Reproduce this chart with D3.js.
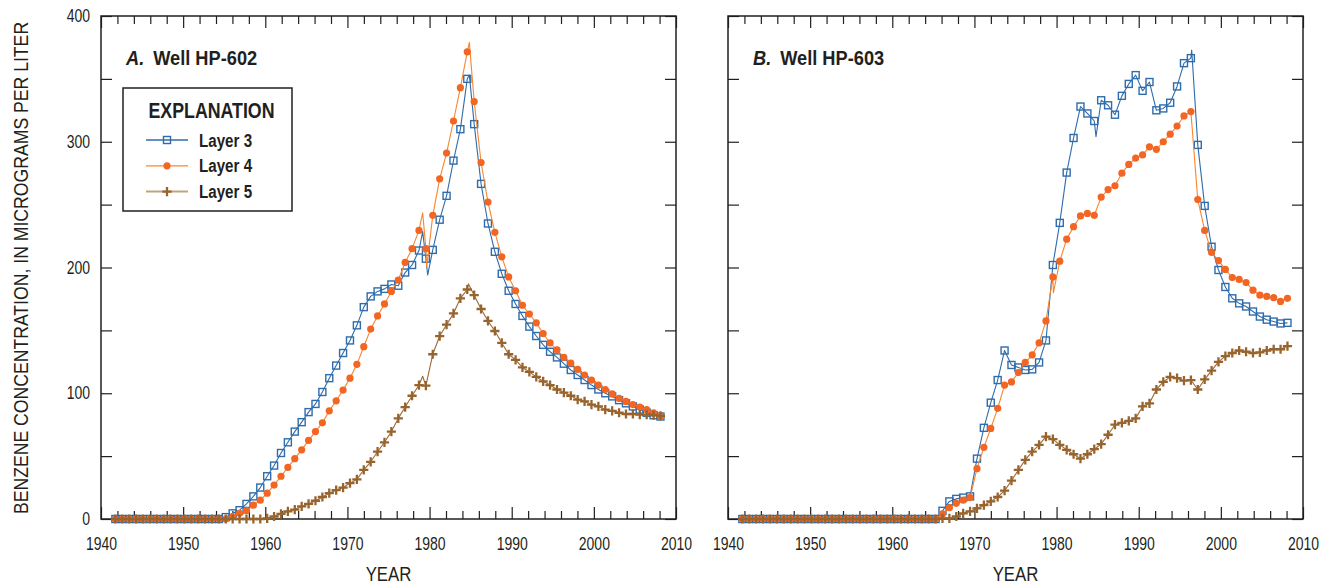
<!DOCTYPE html>
<html>
<head>
<meta charset="utf-8">
<script src="https://cdn.jsdelivr.net/npm/d3@7"></script>
<style>
  body { margin: 0; background: #fff; }
  svg text { font-family: "Liberation Sans", Arial, sans-serif; fill: #231f20; }
</style>
</head>
<body>
<svg id="chart" width="1330" height="585"></svg>
<script>
// Simulated output is reported on a regular 10-month step, 80 outputs per layer.
const outputStart = 1941.75;
const outputStep = 0.84;
const outputYears = d3.range(80).map(i => outputStart + i * outputStep);

// Well HP-602, benzene concentration (micrograms per liter)
const hp602Layer3 = [0,0,0,0,0,0,0,0,0,0,0,0,0,0,0,0,
  1.5,4.5,7,12,18,25,34,42.5,52.5,61,69.5,77,85,91.5,101,112,122,132,142,154,168.5,177,181,183,
  186.5,185.5,196,202,213.5,207,214,238,257,285,310,350,314,266.5,235,212.5,195,181.5,171,161.5,
  153,145.5,138.5,133,128.5,123.5,118.5,114.5,110.5,106.5,103,100,97.5,94.5,92,89.5,87,84.5,82.5,81.5];
const hp602Layer4 = [0,0,0,0,0,0,0,0,0,0,0,0,0,0,0,0,0,
  1.9,4.5,6.6,11,15,20.5,27,34,41,48,55,62.5,69.5,76.5,86,94,102.5,112,123,137,151,161.5,171,
  181,190,204,215,229.5,215,241.5,270.5,291,316.5,343,371.5,332,283.5,252,228,208.5,192.5,181.5,170,
  163,156,147.5,140,134.5,128.5,124,119,114.5,110.5,106.5,103,99.5,96,93.5,91,89,87,84.5,82];
const hp602Layer5 = [0,0,0,0,0,0,0,0,0,0,0,0,0,0,0,0,0,0,0,0,0,0,
  0.5,2,4,6,7.5,10,12,14.5,17.5,20.5,23,25,28.5,31.5,39,45.5,53.5,61,
  69.5,80,89,98,106.5,106,131,145.5,154.5,163.5,175.5,182.5,178,167,157.5,149.5,140,131,126.5,120.5,
  117,113,109.5,106.5,103,100.5,98,95,93.5,91,89.5,87,86,84.5,83.5,83.5,83,83,82.5,82];

// Well HP-603, benzene concentration (micrograms per liter)
const hp603Layer3 = [0,0,0,0,0,0,0,0,0,0,0,0,0,0,0,0,0,0,0,0,0,0,0,0,0,0,0,0,0,
  6.5,14,16,17,18,48,72.5,92.5,110.5,134,122.5,120.5,118.5,119,124.5,142,202,235.5,275.5,303,328,
  322.5,316.5,333,329,321.5,336.5,346,353,340.5,347.5,325,326.5,331,344,362.5,366.5,297.5,249,216.5,198,
  184.5,175.5,171.5,169,165,161,158.5,157,155.5,156];
const hp603Layer4 = [0,0,0,0,0,0,0,0,0,0,0,0,0,0,0,0,0,0,0,0,0,0,0,0,0,0,0,0,0,
  4,9,12.5,15,17,40,57,72,88,106.5,109,116.5,124.5,130.5,140,157.5,192.5,205,222.5,232.5,241,
  243,241.5,256,262,265,275,282,287,289.5,296,294,300,306,312.5,320.5,324,254,229.5,212,205.5,
  198.5,192,190.5,188,182,178,177,176,173,175.5];
const hp603Layer5 = [0,0,0,0,0,0,0,0,0,0,0,0,0,0,0,0,0,0,0,0,0,0,0,0,0,0,0,0,0,
  0.5,0.5,2,4.5,6,8.5,11,14,17.5,22.5,30.5,39,47,53.5,59,65.5,63.5,59,55,51.5,48,
  51.5,55.5,59.5,67,75,76.5,78,80,89.5,92,103,109,113,112,110,110.5,103,111,118,125,
  129.5,132,134,133,132,132.5,134,135,135,137.5];

// Monthly excursions between reported outputs (year, value): line vertices only
const hp602Layer3Peaks = [[1979.16, 228.5], [1979.77, 194], [1984.84, 353]];
const hp602Layer4Peaks = [[1979.16, 243.5], [1979.65, 200.5], [1984.84, 379]];
const hp602Layer5Peaks = [[1979.16, 113.5], [1984.72, 187]];
const hp603Layer3Peaks = [[1984.8, 304], [1996.45, 373]];
const hp603Layer4Peaks = [[1979.62, 180]];
const hp603Layer5Peaks = [];

const layerNames = ["Layer 3", "Layer 4", "Layer 5"];
const yTicks = [0, 50, 100, 150, 200, 250, 300, 350, 400];
const xMajorTicks = [1940, 1950, 1960, 1970, 1980, 1990, 2000, 2010];
const xMinorTicks = d3.range(1940, 2011, 2);

const styles = [
  { line: "#2f6cab", mark: "#2f6cab", kind: "square" },
  { line: "#f7862f", mark: "#f26522", kind: "circle" },
  { line: "#9c6a36", mark: "#98642e", kind: "plus" }
];

const panels = [
  { letter: "A.", well: "Well HP-602", left: 101, right: 676, yLabels: true,
    layers: [hp602Layer3, hp602Layer4, hp602Layer5],
    peaks: [hp602Layer3Peaks, hp602Layer4Peaks, hp602Layer5Peaks] },
  { letter: "B.", well: "Well HP-603", left: 728, right: 1303, yLabels: false,
    layers: [hp603Layer3, hp603Layer4, hp603Layer5],
    peaks: [hp603Layer3Peaks, hp603Layer4Peaks, hp603Layer5Peaks] }
];

const plotTop = 16, plotBottom = 519;
const svg = d3.select("#chart");
const ink = "#231f20";

// Condensed lettering: squeeze text horizontally about its anchor point
function condense(sel, k, extra) {
  sel.each(function () {
    const t = d3.select(this);
    const x = +t.attr("x") || 0, y = +t.attr("y") || 0;
    t.attr("x", null).attr("y", null)
      .attr("transform", `translate(${x},${y})${extra || ""} scale(${k},1)`);
  });
}

function drawMarker(g, kind, color, x, y) {
  if (kind === "square") {
    g.append("rect").attr("x", x - 3.5).attr("y", y - 3.5).attr("width", 7).attr("height", 7)
      .attr("fill", "none").attr("stroke", color).attr("stroke-width", 1.4);
  } else if (kind === "circle") {
    g.append("circle").attr("cx", x).attr("cy", y).attr("r", 3.6).attr("fill", color);
  } else {
    g.append("path").attr("d", `M${x - 4.6},${y}H${x + 4.6}M${x},${y - 4.6}V${y + 4.6}`)
      .attr("stroke", color).attr("stroke-width", 2.3).attr("fill", "none");
  }
}

function styleAxis(g) {
  g.select(".domain").remove();
  g.selectAll(".tick line").attr("stroke", ink).attr("stroke-width", 1.2);
  g.selectAll(".tick text").attr("fill", ink).style("font-size", "17.5px").call(condense, 0.8);
}

panels.forEach(p => {
  const x = d3.scaleLinear().domain([1940, 2010]).range([p.left, p.right]);
  const y = d3.scaleLinear().domain([0, 400]).range([plotBottom, plotTop]);
  const g = svg.append("g");

  // axes with inward ticks on all four sides
  g.append("g").attr("transform", `translate(0,${plotBottom})`)
    .call(d3.axisBottom(x).tickValues(xMinorTicks.filter(v => v % 10 !== 0)).tickSize(-8).tickFormat(""))
    .call(styleAxis);
  g.append("g").attr("transform", `translate(0,${plotBottom})`)
    .call(d3.axisBottom(x).tickValues(xMajorTicks).tickSize(-12).tickPadding(19).tickFormat(d3.format("d")))
    .call(styleAxis);
  g.append("g").attr("transform", `translate(0,${plotTop})`)
    .call(d3.axisTop(x).tickValues(xMinorTicks.filter(v => v % 10 !== 0)).tickSize(-8).tickFormat(""))
    .call(styleAxis);
  g.append("g").attr("transform", `translate(0,${plotTop})`)
    .call(d3.axisTop(x).tickValues(xMajorTicks).tickSize(-12).tickFormat(""))
    .call(styleAxis);
  g.append("g").attr("transform", `translate(${p.left},0)`)
    .call(d3.axisLeft(y).tickValues(yTicks).tickSize(-11).tickPadding(11)
      .tickFormat(d => (p.yLabels && d % 100 === 0) ? d : ""))
    .call(styleAxis);
  g.append("g").attr("transform", `translate(${p.right},0)`)
    .call(d3.axisRight(y).tickValues(yTicks).tickSize(-11).tickFormat(""))
    .call(styleAxis);

  g.append("rect").attr("x", p.left).attr("y", plotTop)
    .attr("width", p.right - p.left).attr("height", plotBottom - plotTop)
    .attr("fill", "none").attr("stroke", ink).attr("stroke-width", 1.5);

  // series: layer 3, then 4, then 5 on top
  const line = d3.line().x(d => x(d[0])).y(d => y(d[1]));
  p.layers.forEach((vals, k) => {
    const st = styles[k];
    const pts = outputYears.map((t, i) => [t, vals[i]]);
    const path = pts.concat(p.peaks[k]).sort((a, b) => a[0] - b[0]);
    const sg = g.append("g");
    sg.append("path").attr("d", line(path)).attr("fill", "none")
      .attr("stroke", st.line).attr("stroke-width", 1.1).attr("stroke-linejoin", "round");
    pts.forEach(d => drawMarker(sg, st.kind, st.mark, x(d[0]), y(d[1])));
  });

  // panel title
  const title = g.append("text").attr("x", p.left + 25).attr("y", 65)
    .style("font-size", "20.5px").style("font-weight", "bold");
  title.append("tspan").style("font-style", "italic").text(p.letter);
  title.append("tspan").attr("dx", 10).text(p.well);
  title.call(condense, 0.89);

  // x-axis title
  g.append("text").attr("x", (p.left + p.right) / 2).attr("y", 581).attr("text-anchor", "middle")
    .style("font-size", "21px").text("YEAR").call(condense, 0.8);
});

// y-axis title
svg.append("text").attr("x", 28).attr("y", 268).attr("text-anchor", "middle")
  .style("font-size", "21px").text("BENZENE CONCENTRATION, IN MICROGRAMS PER LITER")
  .call(condense, 0.84, " rotate(-90)");

// legend
const lg = svg.append("g");
lg.append("rect").attr("x", 123).attr("y", 88).attr("width", 169).attr("height", 123)
  .attr("fill", "#fff").attr("stroke", ink).attr("stroke-width", 1.5);
lg.append("text").attr("x", 211.5).attr("y", 118).attr("text-anchor", "middle")
  .style("font-size", "22.5px").style("font-weight", "bold").text("EXPLANATION")
  .call(condense, 0.79);
layerNames.forEach((name, k) => {
  const yy = 140 + k * 25.8;
  const st = styles[k];
  lg.append("line").attr("x1", 146).attr("x2", 188).attr("y1", yy).attr("y2", yy)
    .attr("stroke", k === 2 ? "#c2a27f" : st.line).attr("stroke-width", k === 2 ? 2 : 1.3);
  drawMarker(lg, st.kind, st.mark, 167, yy);
  lg.append("text").attr("x", 199).attr("y", yy + 6.5).style("font-size", "18.5px")
    .style("font-weight", "bold").text(name).call(condense, 0.82);
});
</script>
</body>
</html>
